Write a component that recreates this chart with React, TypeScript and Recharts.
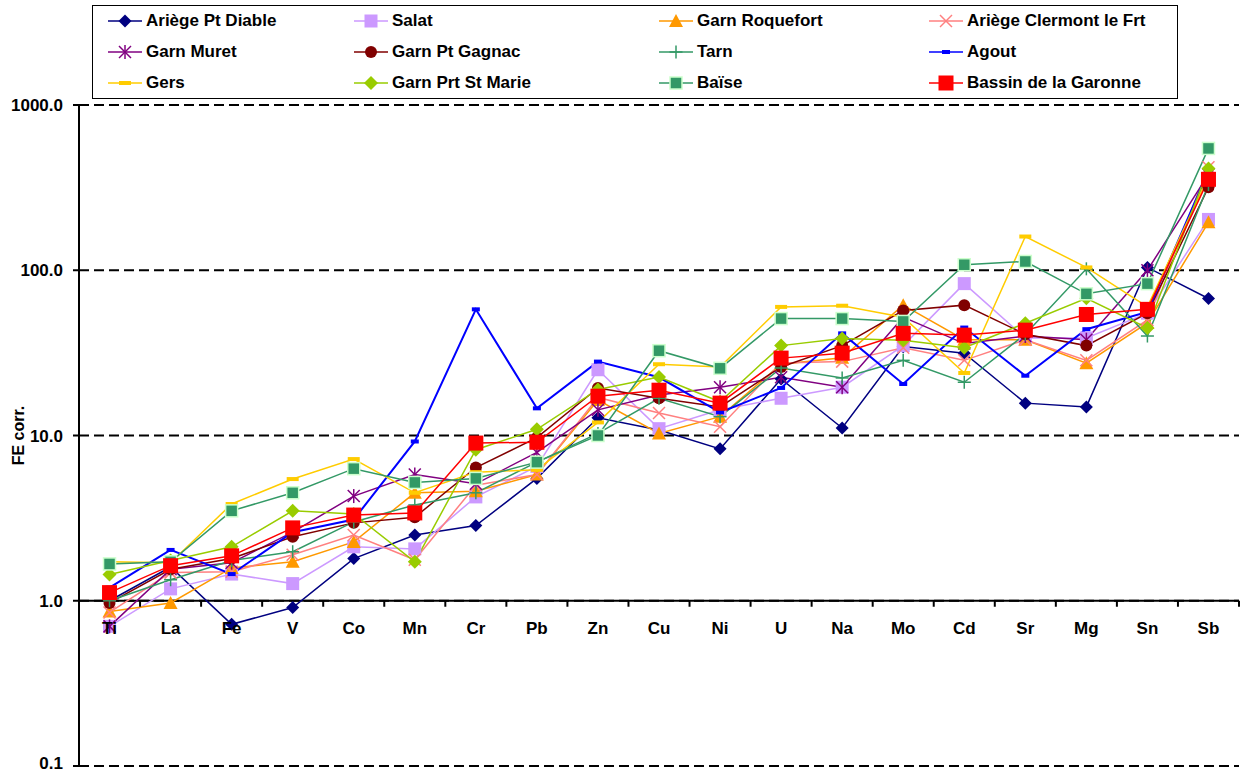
import React from 'react';
import { LineChart, Line, XAxis, YAxis, CartesianGrid, ReferenceLine } from 'recharts';

// elements on the x axis
const categories = ['Ti', 'La', 'Fe', 'V', 'Co', 'Mn', 'Cr', 'Pb', 'Zn', 'Cu', 'Ni', 'U', 'Na', 'Mo', 'Cd', 'Sr', 'Mg', 'Sn', 'Sb'];

// FE corr. per station
const ariegePtDiable = [1.0, 1.6, 0.72, 0.91, 1.8, 2.5, 2.85, 5.5, 12.8, 10.8, 8.3, 22, 11.1, 34.5, 31.5, 15.7, 14.9, 104, 67.5];
const salat = [0.7, 1.18, 1.45, 1.27, 2.12, 2.06, 4.25, 6.5, 25, 11, 14.3, 16.8, 19.6, 35, 83, 38.9, 38.9, 55, 203];
const garnRoquefort = [0.86, 0.97, 1.58, 1.72, 2.27, 4.5, 4.6, 5.8, 16.4, 10.3, 13, 27, 29.5, 61.5, 38, 38, 27.4, 48, 195];
const ariegeClermont = [0.85, 1.48, 1.5, 1.9, 2.5, 1.77, 5.0, 5.8, 17, 13.7, 11.3, 27.5, 28, 34, 28.5, 38, 28.5, 50, 420];
const garnMuret = [0.7, 1.55, 1.7, 2.6, 4.3, 5.8, 5.1, 7.9, 14.3, 17.6, 19.6, 22.5, 19.6, 52, 36, 40, 38, 100, 380];
const garnPtGagnac = [0.97, 1.55, 1.8, 2.44, 2.96, 3.2, 6.4, 9.7, 19.4, 16.8, 14.9, 26, 35, 57, 61.5, 41, 35, 55, 318];
const tarn = [1.0, 1.34, 1.75, 1.98, 3.0, 3.8, 4.5, 6.9, 10.3, 16.8, 13, 25.6, 22.3, 28.5, 21, 41, 102, 40, 330];
const agout = [1.2, 2.03, 1.45, 2.6, 3.1, 9.2, 58, 14.6, 28, 22.5, 13.8, 19.4, 41.5, 20.5, 45, 23, 44, 56, 400];
const gers = [1.72, 1.7, 3.85, 5.45, 7.2, 4.5, 6.0, 6.2, 12, 27, 26, 60, 61, 52, 23.9, 160, 104, 60, 370];
const garnPrtStMarie = [1.44, 1.75, 2.12, 3.5, 3.35, 1.72, 8.2, 10.9, 19, 22.6, 16, 35, 38.7, 37.7, 34, 47.8, 67.7, 44.7, 413];
const baise = [1.67, 1.72, 3.5, 4.5, 6.3, 5.2, 5.5, 6.9, 10, 32.6, 25.5, 51, 51, 49, 108, 113, 72, 83, 546];
const bassinGaronne = [1.12, 1.63, 1.87, 2.76, 3.3, 3.4, 9.0, 9.1, 17.3, 18.8, 15.7, 29.4, 31.5, 41.5, 40.5, 43.4, 54, 58, 355];

const yTicks = [0.1, 1, 10, 100, 1000];

type Shape = 'diamond' | 'square' | 'triangle' | 'cross' | 'star' | 'circle' | 'plus' | 'smallDash' | 'dash' | 'greenDiamond' | 'baiseSquare' | 'bigSquare';

const seriesList: { key: string; name: string; color: string; shape: Shape; values: number[] }[] = [
  { key: 'ariegePtDiable', name: 'Ariège Pt Diable', color: '#000080', shape: 'diamond', values: ariegePtDiable },
  { key: 'salat', name: 'Salat', color: '#CC99FF', shape: 'square', values: salat },
  { key: 'garnRoquefort', name: 'Garn Roquefort', color: '#FF9900', shape: 'triangle', values: garnRoquefort },
  { key: 'ariegeClermont', name: 'Ariège Clermont le Frt', color: '#FF8080', shape: 'cross', values: ariegeClermont },
  { key: 'garnMuret', name: 'Garn Muret', color: '#800080', shape: 'star', values: garnMuret },
  { key: 'garnPtGagnac', name: 'Garn Pt Gagnac', color: '#800000', shape: 'circle', values: garnPtGagnac },
  { key: 'tarn', name: 'Tarn', color: '#339966', shape: 'plus', values: tarn },
  { key: 'agout', name: 'Agout', color: '#0000FF', shape: 'smallDash', values: agout },
  { key: 'gers', name: 'Gers', color: '#FFCC00', shape: 'dash', values: gers },
  { key: 'garnPrtStMarie', name: 'Garn Prt St Marie', color: '#99CC00', shape: 'greenDiamond', values: garnPrtStMarie },
  { key: 'baise', name: 'Baïse', color: '#339966', shape: 'baiseSquare', values: baise },
  { key: 'bassinGaronne', name: 'Bassin de la Garonne', color: '#FF0000', shape: 'bigSquare', values: bassinGaronne },
];

const data = categories.map((cat, i) => {
  const row: any = { cat };
  seriesList.forEach((s) => {
    row[s.key] = s.values[i];
  });
  return row;
});

const W = 1244;
const H = 773;
const X_AXIS_H = 7;
const M = { top: 105, right: 5, bottom: 0, left: 0 };
const Y_AXIS_W = 79;
const PLOT_W = W - M.left - M.right - Y_AXIS_W;
const PLOT_H = H - M.top - M.bottom - X_AXIS_H;
const BAND = PLOT_W / categories.length;
// the category axis crosses at 1.0, three decades below the top of a 4-decade log axis
const AXIS_Y = M.top + (PLOT_H * 3) / 4;
const FONT = '"Liberation Sans", Arial, sans-serif';

function marker(shape: Shape, cx: number, cy: number, color: string, key?: string) {
  if (cx == null || cy == null || isNaN(cx) || isNaN(cy)) return <g key={key} />;
  switch (shape) {
    case 'diamond': {
      const r = 6.5;
      return <polygon key={key} points={`${cx},${cy - r} ${cx + r},${cy} ${cx},${cy + r} ${cx - r},${cy}`} fill={color} />;
    }
    case 'greenDiamond': {
      const r = 7;
      return <polygon key={key} points={`${cx},${cy - r} ${cx + r},${cy} ${cx},${cy + r} ${cx - r},${cy}`} fill={color} />;
    }
    case 'square':
      return <rect key={key} x={cx - 6.5} y={cy - 6.5} width={13} height={13} fill={color} />;
    case 'bigSquare':
      return <rect key={key} x={cx - 7.5} y={cy - 7.5} width={15} height={15} fill={color} />;
    case 'baiseSquare':
      return <rect key={key} x={cx - 6} y={cy - 6} width={12} height={12} fill={color} stroke="#CCFFCC" strokeWidth={1.5} />;
    case 'triangle':
      return <polygon key={key} points={`${cx},${cy - 7} ${cx + 7},${cy + 6} ${cx - 7},${cy + 6}`} fill={color} />;
    case 'circle':
      return <circle key={key} cx={cx} cy={cy} r={6} fill={color} />;
    case 'cross':
      return (
        <g key={key} stroke={color} strokeWidth={1.5}>
          <line x1={cx - 6} y1={cy - 6} x2={cx + 6} y2={cy + 6} />
          <line x1={cx - 6} y1={cy + 6} x2={cx + 6} y2={cy - 6} />
        </g>
      );
    case 'star':
      return (
        <g key={key} stroke={color} strokeWidth={1.5}>
          <line x1={cx - 6} y1={cy - 6} x2={cx + 6} y2={cy + 6} />
          <line x1={cx - 6} y1={cy + 6} x2={cx + 6} y2={cy - 6} />
          <line x1={cx} y1={cy - 7} x2={cx} y2={cy + 7} />
        </g>
      );
    case 'plus':
      return (
        <g key={key} stroke={color} strokeWidth={1.5}>
          <line x1={cx - 6.5} y1={cy} x2={cx + 6.5} y2={cy} />
          <line x1={cx} y1={cy - 6.5} x2={cx} y2={cy + 6.5} />
        </g>
      );
    case 'smallDash':
      return <rect key={key} x={cx - 4} y={cy - 2} width={8} height={4} fill={color} />;
    case 'dash':
      return <rect key={key} x={cx - 6} y={cy - 2} width={12} height={4} fill={color} />;
  }
  return <g key={key} />;
}

const XTick = (props: any) => {
  const { x, payload, index } = props;
  return (
    <g>
      <line x1={x - BAND / 2} x2={x - BAND / 2} y1={AXIS_Y} y2={AXIS_Y + 6} stroke="#000" strokeWidth={2} />
      {index === categories.length - 1 && (
        <line x1={x + BAND / 2} x2={x + BAND / 2} y1={AXIS_Y} y2={AXIS_Y + 6} stroke="#000" strokeWidth={2} />
      )}
      <text x={x} y={AXIS_Y + 33} textAnchor="middle" fontFamily={FONT} fontWeight="bold" fontSize={17} fill="#000">
        {payload.value}
      </text>
    </g>
  );
};

const YTick = (props: any) => {
  const { x, y, payload } = props;
  // keep the lowest label inside the picture
  const baseline = Math.min(y + 6, H - 4);
  return (
    <text x={x} y={baseline} textAnchor="end" fontFamily={FONT} fontWeight="bold" fontSize={17} fill="#000">
      {Number(payload.value).toFixed(1)}
    </text>
  );
};

const legendCols = [108, 354, 659, 929];
const legendRows = [21, 52, 83];

function ChartLegend() {
  return (
    <>
      <div
        style={{
          position: 'absolute',
          left: 92,
          top: 5,
          width: 1086,
          height: 94,
          border: '1px solid #000',
          boxSizing: 'border-box',
          background: '#fff',
        }}
      />
      {seriesList.map((s, i) => {
        const col = legendCols[i % 4];
        const row = legendRows[Math.floor(i / 4)];
        return (
          <div key={s.key} style={{ position: 'absolute', left: col, top: row - 12, height: 24, display: 'flex', alignItems: 'center' }}>
            <svg width={34} height={24} style={{ display: 'block' }}>
              <line x1={0} x2={34} y1={12} y2={12} stroke={s.color} strokeWidth={1.5} />
              {marker(s.shape, 17, 12, s.color)}
            </svg>
            <span style={{ marginLeft: 4, fontFamily: FONT, fontWeight: 'bold', fontSize: 17, color: '#000', whiteSpace: 'nowrap' }}>
              {s.name}
            </span>
          </div>
        );
      })}
    </>
  );
}

export default function App() {
  return (
    <div style={{ position: 'absolute', left: 0, top: 0, width: W, height: H, background: '#fff' }}>
      <LineChart width={W} height={H} data={data} margin={M}>
        <CartesianGrid horizontal vertical={false} stroke="#000" strokeWidth={2} strokeDasharray="10 5" />
        <XAxis
          dataKey="cat"
          height={X_AXIS_H}
          axisLine={false}
          tickLine={false}
          interval={0}
          padding={{ left: BAND / 2, right: BAND / 2 }}
          tick={(p: any) => <XTick {...p} />}
        />
        <YAxis
          width={Y_AXIS_W}
          scale="log"
          domain={[0.1, 1000]}
          ticks={yTicks}
          interval={0}
          allowDataOverflow
          axisLine={{ stroke: '#000', strokeWidth: 2 }}
          tickLine={{ stroke: '#000', strokeWidth: 2 }}
          tickSize={6}
          tickMargin={10}
          tick={(p: any) => <YTick {...p} />}
          label={{
            content: (p: any) => {
              const vb = p.viewBox || { x: 0, y: M.top, height: PLOT_H };
              const cy = vb.y + vb.height / 2;
              return (
                <text
                  x={vb.x + 18}
                  y={cy}
                  transform={`rotate(-90 ${vb.x + 18} ${cy})`}
                  textAnchor="middle"
                  dominantBaseline="central"
                  fontFamily={FONT}
                  fontWeight="bold"
                  fontSize={16}
                  fill="#000"
                >
                  FE corr.
                </text>
              );
            },
          }}
        />
        <ReferenceLine y={1} stroke="#000" strokeWidth={2} />
        {seriesList.map((s) => (
          <Line
            key={s.key}
            dataKey={s.key}
            name={s.name}
            stroke={s.color}
            strokeWidth={s.key === 'agout' ? 2 : 1.5}
            isAnimationActive={false}
            dot={(p: any) => marker(s.shape, p.cx, p.cy, s.color, `${s.key}-${p.index}`)}
            activeDot={false}
          />
        ))}
      </LineChart>
      <ChartLegend />
    </div>
  );
}
